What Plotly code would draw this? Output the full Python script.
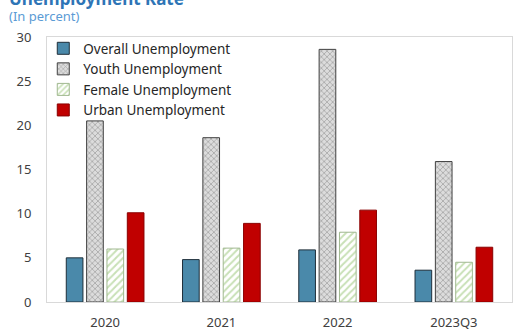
import plotly.graph_objects as go

categories = ["2020", "2021", "2022", "2023Q3"]
overall = [5.0, 4.8, 5.9, 3.6]
youth = [20.5, 18.6, 28.6, 15.9]
female = [6.0, 6.1, 7.9, 4.5]
urban = [10.1, 8.9, 10.4, 6.2]
y_ticks = [0, 5, 10, 15, 20, 25, 30]

fig = go.Figure()
fig.add_trace(go.Bar(name="Overall Unemployment", x=categories, y=overall,
                     marker=dict(color="#4a89aa", line=dict(color="#1f2f3a", width=1))))
fig.add_trace(go.Bar(name="Youth Unemployment", x=categories, y=youth,
                     marker=dict(color="#d0d0d0", line=dict(color="#404040", width=1),
                                 pattern=dict(shape="x", fgcolor="#6e6e6e", bgcolor="#dcdcdc",
                                              size=4, solidity=0.35))))
fig.add_trace(go.Bar(name="Female Unemployment", x=categories, y=female,
                     marker=dict(color="white", line=dict(color="#a0b890", width=1),
                                 pattern=dict(shape="/", fgcolor="#92c26e", bgcolor="white",
                                              size=5, solidity=0.4))))
fig.add_trace(go.Bar(name="Urban Unemployment", x=categories, y=urban,
                     marker=dict(color="#c00000", line=dict(color="#8a0000", width=1))))

fig.update_layout(
    width=518, height=331,
    margin=dict(l=47, r=6, t=37, b=29),
    paper_bgcolor="white", plot_bgcolor="white",
    barmode="group", bargap=0.30, bargroupgap=0.18,
    font=dict(family="Noto Sans, Open Sans, sans-serif", size=13, color="#404040"),
    showlegend=True,
    legend=dict(x=-0.008, y=1.015, xanchor="left", yanchor="top",
                bgcolor="rgba(0,0,0,0)", font=dict(size=13.5, color="#262626"),
                tracegroupgap=0, itemwidth=30),
    xaxis=dict(showline=True, linecolor="#d9d9d9", linewidth=1, mirror=True,
               ticks="outside", ticklen=8, tickcolor="rgba(0,0,0,0)", automargin=False,
               tickfont=dict(size=13, color="#404040")),
    yaxis=dict(range=[0, 30], tickvals=y_ticks, showgrid=False, showline=True,
               linecolor="#d9d9d9", linewidth=1, mirror=True, automargin=False,
               ticks="outside", ticklen=12, tickcolor="rgba(0,0,0,0)",
               tickfont=dict(size=13, color="#404040"), zeroline=False),
)

fig.add_annotation(text="<b>Unemployment Rate</b>", xref="paper", yref="paper",
                   x=-0.086, y=1.096, xanchor="left", yanchor="bottom", showarrow=False,
                   font=dict(size=17, color="#2e75b6"))
fig.add_annotation(text="(In percent)", xref="paper", yref="paper",
                   x=-0.086, y=1.037, xanchor="left", yanchor="bottom", showarrow=False,
                   font=dict(size=13, color="#5b9bd5"))

fig.write_html("out.html")
